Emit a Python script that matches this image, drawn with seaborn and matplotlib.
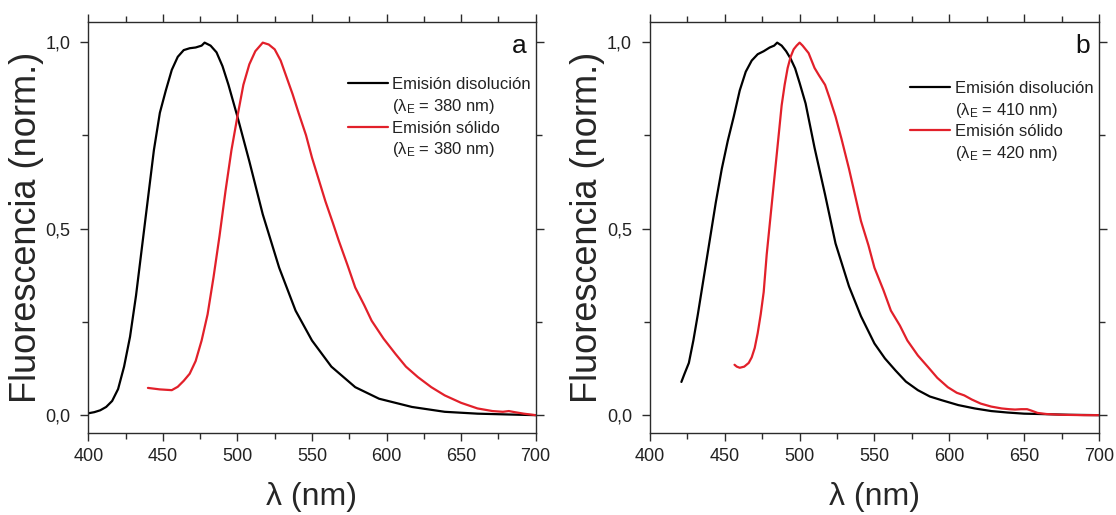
import numpy as np
import pandas as pd
import matplotlib
matplotlib.use("Agg")
import matplotlib.pyplot as plt
from matplotlib.lines import Line2D
from matplotlib.ticker import MultipleLocator, FuncFormatter
import seaborn as sns

# ---------------- data ----------------
# Panel a
a_sol_x = [400, 404, 408, 412, 416, 420, 424, 428, 432, 436, 440, 444, 448, 452, 456, 460,
           464, 468, 472, 476, 478, 482, 486, 490, 494, 500, 508, 517, 528, 539, 550, 563,
           579, 595, 617, 639, 661, 680, 700]
a_sol_y = [0.005, 0.008, 0.013, 0.022, 0.038, 0.07, 0.13, 0.21, 0.32, 0.45, 0.58, 0.71, 0.81,
           0.87, 0.925, 0.96, 0.978, 0.983, 0.985, 0.99, 0.998, 0.99, 0.972, 0.935, 0.885,
           0.80, 0.68, 0.538, 0.395, 0.28, 0.20, 0.13, 0.075, 0.044, 0.022, 0.009, 0.004,
           0.002, 0.0]
a_sd_x = [440, 444, 448, 452, 456, 460, 464, 468, 472, 476, 480, 484, 488, 492, 496, 500, 504,
          508, 512, 517, 521, 525, 529, 533, 537, 541, 546, 550, 555, 559, 564, 568, 574, 579,
          585, 590, 598, 606, 613, 621, 630, 639, 650, 661, 671, 678, 682, 686, 692, 700]
a_sd_y = [0.073, 0.071, 0.069, 0.068, 0.067, 0.076, 0.092, 0.111, 0.145, 0.20, 0.27, 0.37,
          0.48, 0.60, 0.71, 0.80, 0.885, 0.94, 0.975, 0.998, 0.993, 0.98, 0.95, 0.905, 0.86,
          0.81, 0.75, 0.69, 0.625, 0.573, 0.515, 0.467, 0.40, 0.342, 0.295, 0.253, 0.205,
          0.164, 0.13, 0.102, 0.075, 0.053, 0.033, 0.018, 0.011, 0.009, 0.011, 0.008, 0.004, 0.0]

# Panel b
b_sol_x = [421, 423, 426, 429, 432, 436, 440, 444, 448, 452, 456, 460, 464, 468, 472, 476, 480,
           483, 485, 488, 491, 494, 497, 500, 504, 510, 517, 524, 533, 541, 550, 557, 564, 571,
           579, 587, 595, 606, 617, 628, 639, 650, 661, 680, 700]
b_sol_y = [0.089, 0.11, 0.14, 0.20, 0.27, 0.37, 0.47, 0.57, 0.66, 0.735, 0.80, 0.87, 0.92,
           0.95, 0.967, 0.975, 0.985, 0.99, 0.998, 0.99, 0.975, 0.955, 0.929, 0.89, 0.835,
           0.716, 0.591, 0.46, 0.345, 0.265, 0.192, 0.152, 0.12, 0.09, 0.067, 0.05, 0.04,
           0.027, 0.018, 0.011, 0.007, 0.004, 0.003, 0.001, 0.0]
b_sd_x = [456.5, 458, 460, 463, 466, 468, 470, 472, 474, 476, 478, 480, 482, 484, 486, 488, 490,
          492, 494, 496, 498, 500, 502, 504, 506, 508, 510, 513, 517, 520, 524, 528, 533, 537,
          541, 546, 550, 556, 561, 567, 572, 579, 586, 592, 599, 605, 610, 615, 621, 628, 635,
          640, 644, 648, 652, 655, 659, 665, 675, 690, 700]
b_sd_y = [0.135, 0.13, 0.127, 0.13, 0.14, 0.155, 0.18, 0.22, 0.27, 0.33, 0.43, 0.51, 0.59,
          0.67, 0.75, 0.83, 0.885, 0.93, 0.96, 0.98, 0.99, 0.998, 0.99, 0.98, 0.97, 0.95,
          0.93, 0.91, 0.885, 0.85, 0.80, 0.74, 0.66, 0.59, 0.52, 0.455, 0.395, 0.335, 0.28,
          0.24, 0.20, 0.16, 0.128, 0.10, 0.075, 0.06, 0.053, 0.042, 0.031, 0.023, 0.018,
          0.016, 0.015, 0.016, 0.016, 0.012, 0.006, 0.003, 0.001, 0.0, 0.0]

panel_letters = ["a", "b"]
legend_sol = ["Emisión disolución", "(λ$_\\mathregular{E}$ = 380 nm)",
              "Emisión disolución", "(λ$_\\mathregular{E}$ = 410 nm)"]
legend_sd = ["Emisión sólido", "(λ$_\\mathregular{E}$ = 380 nm)",
             "Emisión sólido", "(λ$_\\mathregular{E}$ = 420 nm)"]
x_ticks = [400, 450, 500, 550, 600, 650, 700]
y_ticks = [0.0, 0.5, 1.0]

# ---------------- style ----------------
sns.set_theme(style="ticks")
plt.rcParams["font.family"] = ["Liberation Sans", "DejaVu Sans"]
plt.rcParams["mathtext.fontset"] = "custom"
plt.rcParams["mathtext.rm"] = "Liberation Sans"
plt.rcParams["mathtext.it"] = "Liberation Sans:italic"

BLACK = "#000000"
RED = "#e2202a"
SPINE = "#2b2b2b"

fig = plt.figure(figsize=(11.16, 5.15), dpi=100)
ax_a = fig.add_axes([0.0791, 0.1598, 0.4009, 0.798])
ax_b = fig.add_axes([0.5824, 0.1598, 0.4023, 0.798])

panels = [
    (ax_a, a_sol_x, a_sol_y, a_sd_x, a_sd_y, legend_sol[0:2], legend_sd[0:2], panel_letters[0], 0.865),
    (ax_b, b_sol_x, b_sol_y, b_sd_x, b_sd_y, legend_sol[2:4], legend_sd[2:4], panel_letters[1], 0.856),
]

for ax, sx, sy, dx, dy, lsol, lsd, letter, leg_y in panels:
    sns.lineplot(x=sx, y=sy, ax=ax, color=BLACK, lw=1.6, sort=False)
    sns.lineplot(x=dx, y=dy, ax=ax, color=RED, lw=1.6, sort=False)
    ax.set_xlim(400, 700)
    ax.set_ylim(-0.047, 1.054)
    ax.xaxis.set_major_locator(MultipleLocator(50))
    ax.xaxis.set_minor_locator(MultipleLocator(25))
    ax.yaxis.set_major_locator(MultipleLocator(0.5))
    ax.yaxis.set_minor_locator(MultipleLocator(0.25))
    ax.set_xticks(x_ticks)
    ax.set_yticks(y_ticks)
    ax.yaxis.set_major_formatter(FuncFormatter(lambda v, p: f"{v:.1f}".replace(".", ",")))
    ax.tick_params(which="both", direction="out", top=True, right=True,
                   labeltop=False, labelright=False, color=SPINE, width=1.0)
    ax.tick_params(which="major", length=6, labelsize=13, labelcolor="#222222")
    ax.tick_params(axis="y", which="major", pad=7)
    ax.tick_params(axis="x", which="major", pad=5)
    ax.tick_params(which="minor", length=4)
    for sp in ax.spines.values():
        sp.set_visible(True)
        sp.set_color(SPINE)
        sp.set_linewidth(1.0)
    ax.set_xlabel("λ (nm)", fontsize=23, labelpad=12)
    ax.set_ylabel("Fluorescencia (norm.)", fontsize=26, labelpad=1)
    ax.text(0.98, 0.924, letter, transform=ax.transAxes, ha="right", va="baseline",
            fontsize=19, color="#111111")
    handles = [Line2D([], [], color=BLACK, lw=1.6), Line2D([], [], color="none"),
               Line2D([], [], color=RED, lw=1.6), Line2D([], [], color="none")]
    labels = [lsol[0], lsol[1], lsd[0], lsd[1]]
    leg = ax.legend(handles, labels, loc="upper left", bbox_to_anchor=(0.58, leg_y),
                    frameon=False, fontsize=12, handlelength=2.4, handletextpad=0.25,
                    labelspacing=0.28, borderpad=0, borderaxespad=0)
    for t in leg.get_texts():
        t.set_color("#222222")

fig.savefig("out.png", dpi=100)
